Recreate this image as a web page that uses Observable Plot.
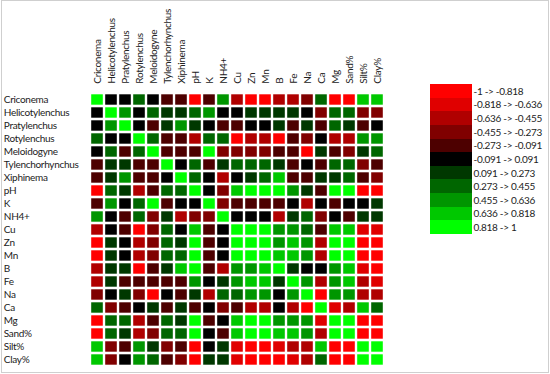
<!DOCTYPE html>
<html><head><meta charset="utf-8">
<script src="https://cdn.jsdelivr.net/npm/d3@7"></script>
<script src="https://cdn.jsdelivr.net/npm/@observablehq/plot@0.6"></script>
<style>
body{margin:0;background:#fff;}
#wrap{position:relative;width:550px;height:374px;font-family:Lato,"Liberation Sans",sans-serif;overflow:hidden;}
#frame{position:absolute;left:1px;top:0;width:546px;height:371px;border:1px solid #cfcfcf;pointer-events:none;}
#legend{position:absolute;left:430px;top:84px;}
.lrow{display:flex;align-items:center;height:13.64px;}
.sw{width:42px;height:13.64px;flex:none;}
.lab{font-size:10px;letter-spacing:-0.3px;margin-left:1.5px;color:#222;white-space:nowrap;}
</style></head><body>
<div id="wrap"><div id="chart"></div><div id="legend"></div><div id="frame"></div></div>
<script>
const variables = ["Criconema","Helicotylenchus","Pratylenchus","Rotylenchus","Meloidogyne","Tylenchorhynchus","Xiphinema","pH","K","NH4+","Cu","Zn","Mn","B","Fe","Na","Ca","Mg","Sand%","Silt%","Clay%"];

// correlation values (bin mid-points; diagonal = 1)
const rCriconema       = [1,0,0,0.36,0,-0.18,-0.18,-0.91,-0.18,0.55,-0.55,-0.91,-0.91,-0.55,-0.55,-0.36,0.36,-0.91,-0.91,0.73,0.73];
const rHelicotylenchus = [0,1,0.55,0,0.36,0.18,0.18,0.36,0.55,0,0,0.18,0.18,0.18,0.18,0,-0.36,0.36,0.36,-0.36,-0.36];
const rPratylenchus    = [0,0.55,1,0,-0.18,0.18,0.55,0.18,0,-0.18,-0.18,0,0,0.18,-0.18,0.18,-0.18,0.36,0.18,-0.18,0];
const rRotylenchus     = [0.36,0,0,1,0.36,-0.18,-0.18,-0.55,0.36,0.36,-0.91,-0.55,-0.55,-0.91,-0.18,-0.36,0,-0.55,-0.55,0.55,0.55];
const rMeloidogyne     = [0,0.36,-0.18,0.36,1,-0.18,-0.18,-0.18,0.91,-0.36,-0.36,-0.36,-0.36,-0.18,-0.18,-0.91,0.18,-0.18,-0.36,0.18,0.36];
const rTylenchorhynchus= [-0.18,0.18,0.18,-0.18,-0.18,1,0,0.36,-0.18,0.18,0.36,0.36,0.36,0.18,-0.18,0,-0.18,0.36,0.36,-0.36,-0.18];
const rXiphinema       = [-0.18,0.18,0.55,-0.18,-0.18,0,1,0.36,0,-0.55,0,0.18,0.36,0.73,-0.18,-0.18,0.18,0.18,0.36,-0.18,-0.36];
const rpH              = [-0.91,0.36,0.18,-0.55,-0.18,0.36,0.36,1,0,-0.36,0.73,0.91,0.91,0.91,0.55,0.18,-0.18,0.91,0.91,-0.91,-0.91];
const rK               = [-0.18,0.55,0,0.36,0.91,-0.18,0,0,1,-0.36,-0.18,-0.18,-0.18,-0.18,0,-0.55,0,-0.18,0,0,0.18];
const rNH4             = [0.55,0,-0.18,0.36,-0.36,0.18,-0.55,-0.36,-0.36,1,0,0,0,-0.55,0.18,0.36,-0.36,0,-0.18,0.18,0.18];
const rCu              = [-0.55,0,-0.18,-0.91,-0.36,0.36,0,0.73,-0.18,0,1,0.91,0.91,0.55,0.55,0.36,-0.18,0.73,0.73,-0.73,-0.73];
const rZn              = [-0.91,0.18,0,-0.55,-0.36,0.36,0.18,0.91,-0.18,0,0.91,1,0.91,0.55,0.73,0.55,-0.55,0.91,0.91,-0.91,-0.91];
const rMn              = [-0.91,0.18,0,-0.55,-0.36,0.36,0.36,0.91,-0.18,0,0.91,0.91,1,0.73,0.73,0.55,-0.55,0.91,0.91,-0.91,-0.91];
const rB               = [-0.55,0.18,0.18,-0.91,-0.18,0.18,0.73,0.91,-0.18,-0.55,0.55,0.55,0.73,1,0.18,0,0,0.55,0.73,-0.73,-0.91];
const rFe              = [-0.55,0.18,-0.18,-0.18,-0.18,-0.18,-0.18,0.55,0,0.18,0.55,0.73,0.73,0.18,1,0.55,-0.55,0.55,0.73,-0.55,-0.73];
const rNa              = [-0.36,0,0.18,-0.36,-0.91,0,-0.18,0.18,-0.55,0.36,0.36,0.55,0.55,0,0.55,1,-0.91,0.55,0.55,-0.55,-0.55];
const rCa              = [0.36,-0.36,-0.18,0,0.18,-0.18,0.18,-0.18,0,-0.36,-0.18,-0.55,-0.55,0,-0.55,-0.91,1,-0.73,-0.55,0.73,0.36];
const rMg              = [-0.91,0.36,0.36,-0.55,-0.18,0.36,0.18,0.91,-0.18,0,0.73,0.91,0.91,0.55,0.55,0.55,-0.73,1,0.91,-0.91,-0.91];
const rSand            = [-0.91,0.36,0.18,-0.55,-0.36,0.36,0.36,0.91,0,-0.18,0.73,0.91,0.91,0.73,0.73,0.55,-0.55,0.91,1,-0.91,-0.91];
const rSilt            = [0.73,-0.36,-0.18,0.55,0.18,-0.36,-0.18,-0.91,0,0.18,-0.73,-0.91,-0.91,-0.73,-0.55,-0.55,0.73,-0.91,-0.91,1,0.91];
const rClay            = [0.73,-0.36,0,0.55,0.36,-0.18,-0.36,-0.91,0.18,0.18,-0.73,-0.91,-0.91,-0.91,-0.73,-0.55,0.36,-0.91,-0.91,0.91,1];
const matrix = [rCriconema,rHelicotylenchus,rPratylenchus,rRotylenchus,rMeloidogyne,rTylenchorhynchus,rXiphinema,rpH,rK,rNH4,rCu,rZn,rMn,rB,rFe,rNa,rCa,rMg,rSand,rSilt,rClay];

const thresholds = [-0.818,-0.636,-0.455,-0.273,-0.091,0.091,0.273,0.455,0.636,0.818];
const binLabels = ["-1 -> -0.818","-0.818 -> -0.636","-0.636 -> -0.455","-0.455 -> -0.273","-0.273 -> -0.091","-0.091 -> 0.091","0.091 -> 0.273","0.273 -> 0.455","0.455 -> 0.636","0.636 -> 0.818","0.818 -> 1"];
const colors = ["#ff0000","#e00000","#b00000","#800000","#4d0000","#000000","#003800","#006600","#009600","#00c800","#00ff00"];

const data = [];
variables.forEach((r, i) => variables.forEach((c, j) => data.push({row: r, col: c, value: matrix[i][j]})));

const chart = Plot.plot({
  width: 550, height: 374,
  marginLeft: 86.8, marginRight: 161.8, marginTop: 85.7, marginBottom: 1.7,
  x: {domain: variables, padding: 0},
  y: {domain: variables, padding: 0, axis: null},
  color: {type: "threshold", domain: thresholds, range: colors},
  style: {fontFamily: "Lato, 'Liberation Sans', sans-serif", fontSize: "10px", letterSpacing: "-0.3px", color: "#222", background: "transparent", overflow: "visible"},
  marks: [
    Plot.cell(data, {x: "col", y: "row", fill: "value", insetLeft: 1.2, insetRight: 1.2, insetTop: 1.3, insetBottom: 1.3}),
    Plot.axisX({anchor: "top", tickSize: 0, tickRotate: -90, tickPadding: 2.5, fontSize: 10, label: null, fill: "#222"}),
    Plot.text(variables, {y: d => d, frameAnchor: "left", textAnchor: "start", dx: -83.5, fontSize: 10, fill: "#222"})
  ]
});
document.getElementById("chart").appendChild(chart);

const leg = document.getElementById("legend");
binLabels.forEach((t, i) => {
  const row = document.createElement("div");
  row.className = "lrow";
  row.innerHTML = `<div class="sw" style="background:${colors[i]}"></div><div class="lab">${t}</div>`;
  leg.appendChild(row);
});
</script>
</body></html>
